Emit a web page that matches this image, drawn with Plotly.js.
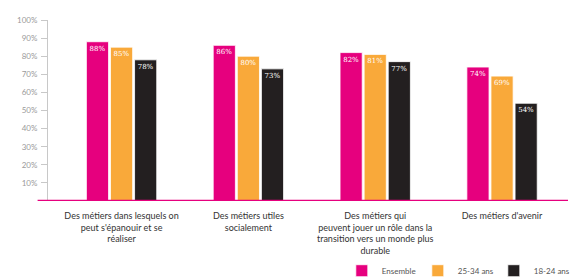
<!DOCTYPE html>
<html>
<head>
<meta charset="utf-8">
<script src="https://cdn.plot.ly/plotly-3.0.1.min.js"></script>
<style>html,body{margin:0;padding:0;background:#fff;}#chart{width:574px;height:278px;}</style>
</head>
<body>
<div id="chart"></div>
<script>
const categories = [
  "Des métiers dans lesquels on<br>peut s'épanouir et se<br>réaliser",
  "Des métiers utiles<br>socialement",
  "Des métiers qui<br>peuvent jouer un rôle dans la<br>transition vers un monde plus<br>durable",
  "Des métiers d'avenir"
];
const seriesNames = ["Ensemble", "25-34 ans", "18-24 ans"];
const ensemble = [88, 86, 82, 74];
const ans25_34 = [85, 80, 81, 69];
const ans18_24 = [78, 73, 77, 54];
const colors = ["#E6007E", "#F9A93A", "#231F20"];
const yTickVals = [10, 20, 30, 40, 50, 60, 70, 80, 90, 100];
const yTickText = yTickVals.map(v => v + "%");

const allSeries = [ensemble, ans25_34, ans18_24];
const traces = allSeries.map((vals, i) => ({
  type: "bar",
  name: seriesNames[i],
  x: categories,
  y: vals,
  text: vals.map(v => v + "%"),
  textposition: "inside",
  insidetextanchor: "end",
  textangle: 0,
  textfont: {family: "DejaVu Serif, serif", size: 7, color: "#ffffff"},
  marker: {color: colors[i], line: {color: "#ffffff", width: 0.8}},
  hoverinfo: "skip"
}));

const layout = {
  width: 574,
  height: 278,
  margin: {l: 48, r: 6, t: 20, b: 77, autoexpand: false},
  paper_bgcolor: "#ffffff",
  plot_bgcolor: "#ffffff",
  barmode: "group",
  bargap: 0.43,
  bargroupgap: 0.08,
  showlegend: true,
  legend: {
    orientation: "h",
    x: 0.565, xanchor: "left",
    y: -0.305, yanchor: "top",
    entrywidth: 31,
    itemwidth: 30,
    font: {family: "Lato, sans-serif", size: 8, color: "#555"},
    traceorder: "normal"
  },
  xaxis: {
    type: "category",
    range: [-0.58, 3.52],
    automargin: false,
    showline: false,
    showgrid: false,
    zeroline: false,
    ticks: "",
    tickangle: 0,
    ticklabelstandoff: 8,
    tickfont: {family: "Lato, sans-serif", size: 9, color: "#333"}
  },
  yaxis: {
    range: [0, 100],
    automargin: false,
    tickvals: yTickVals,
    ticktext: yTickText,
    showgrid: false,
    zeroline: false,
    showline: true,
    linecolor: "#c8c8c8",
    linewidth: 1,
    ticks: "outside",
    ticklen: 6,
    tickcolor: "#c8c8c8",
    ticklabelstandoff: 2,
    tickfont: {family: "Lato, sans-serif", size: 8, color: "#9a9a9a"}
  },
  shapes: [{
    type: "line",
    xref: "paper", yref: "y",
    x0: -0.02, x1: 1, y0: 0, y1: 0,
    line: {color: "#E6007E", width: 2.5}
  }]
};

Plotly.newPlot("chart", traces, layout, {displayModeBar: false, staticPlot: true});
</script>
</body>
</html>
